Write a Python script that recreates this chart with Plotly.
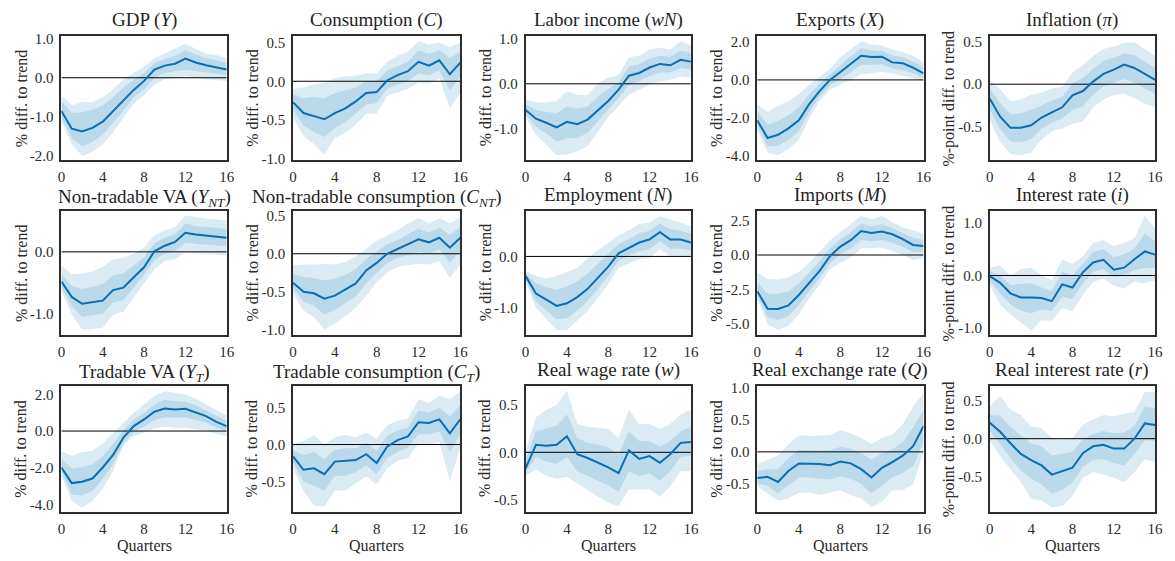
import plotly.graph_objects as go

quarters = list(range(17))

# ---- Impulse responses: median path, 68% band, 90% band ----
gdp_mid  = [-0.85, -1.30, -1.37, -1.28, -1.12, -0.85, -0.58, -0.31, -0.08, 0.21, 0.31, 0.36, 0.49, 0.39, 0.32, 0.26, 0.21]
gdp_lo68 = [-1.00, -1.55, -1.75, -1.65, -1.45, -1.15, -0.85, -0.50, -0.30, 0.00, 0.12, 0.17, 0.20, 0.17, 0.13, 0.10, 0.06]
gdp_hi68 = [-0.60, -0.90, -0.88, -0.82, -0.70, -0.50, -0.25, -0.05, 0.12, 0.38, 0.48, 0.56, 0.70, 0.60, 0.50, 0.45, 0.38]
gdp_lo90 = [-1.12, -1.70, -2.00, -1.90, -1.70, -1.40, -1.03, -0.66, -0.45, -0.17, -0.04, 0.00, 0.04, 0.00, -0.04, -0.06, -0.08]
gdp_hi90 = [-0.45, -0.70, -0.62, -0.62, -0.50, -0.29, -0.04, 0.12, 0.29, 0.50, 0.62, 0.74, 0.87, 0.74, 0.62, 0.58, 0.50]

cons_mid  = [-0.27, -0.41, -0.45, -0.49, -0.41, -0.35, -0.26, -0.15, -0.14, 0.01, 0.08, 0.13, 0.25, 0.20, 0.27, 0.09, 0.24]
cons_lo68 = [-0.36, -0.57, -0.65, -0.72, -0.60, -0.53, -0.42, -0.30, -0.28, -0.10, -0.04, 0.00, 0.10, 0.08, 0.14, -0.12, 0.06]
cons_hi68 = [-0.17, -0.22, -0.20, -0.22, -0.15, -0.12, -0.08, 0.00, 0.00, 0.14, 0.20, 0.25, 0.40, 0.35, 0.40, 0.30, 0.38]
cons_lo90 = [-0.46, -0.71, -0.81, -0.95, -0.73, -0.67, -0.56, -0.42, -0.42, -0.19, -0.15, -0.10, -0.02, -0.03, 0.04, -0.35, -0.15]
cons_hi90 = [-0.10, -0.08, -0.04, -0.02, 0.04, 0.06, 0.07, 0.10, 0.10, 0.25, 0.33, 0.38, 0.52, 0.47, 0.50, 0.44, 0.50]

labinc_mid  = [-0.58, -0.77, -0.86, -0.96, -0.84, -0.89, -0.79, -0.59, -0.38, -0.13, 0.18, 0.24, 0.36, 0.44, 0.41, 0.53, 0.49]
labinc_lo68 = [-0.68, -0.95, -1.10, -1.28, -1.20, -1.20, -1.08, -0.83, -0.58, -0.32, -0.02, 0.06, 0.17, 0.25, 0.25, 0.35, 0.32]
labinc_hi68 = [-0.45, -0.57, -0.62, -0.65, -0.50, -0.55, -0.50, -0.28, -0.12, 0.03, 0.38, 0.43, 0.56, 0.62, 0.60, 0.73, 0.68]
labinc_lo90 = [-0.74, -1.13, -1.34, -1.58, -1.56, -1.49, -1.38, -1.06, -0.74, -0.49, -0.24, -0.13, -0.02, 0.05, 0.09, 0.16, 0.14]
labinc_hi90 = [-0.34, -0.41, -0.41, -0.38, -0.16, -0.24, -0.25, 0.01, 0.14, 0.19, 0.59, 0.62, 0.76, 0.80, 0.76, 0.94, 0.85]

exp_mid  = [-2.12, -3.05, -2.88, -2.54, -2.12, -1.27, -0.59, 0.00, 0.42, 0.85, 1.27, 1.20, 1.22, 0.92, 0.88, 0.64, 0.34]
exp_lo68 = [-2.40, -3.50, -3.45, -3.15, -2.70, -1.70, -0.88, -0.30, 0.05, 0.40, 0.80, 0.78, 0.82, 0.60, 0.52, 0.35, 0.12]
exp_hi68 = [-1.65, -2.35, -2.15, -1.85, -1.45, -0.75, -0.20, 0.30, 0.80, 1.25, 1.65, 1.55, 1.52, 1.28, 1.20, 0.97, 0.65]
exp_lo90 = [-2.63, -3.81, -3.95, -3.64, -3.14, -2.03, -1.10, -0.51, -0.25, 0.00, 0.29, 0.34, 0.42, 0.34, 0.22, 0.08, -0.05]
exp_hi90 = [-1.27, -1.69, -1.36, -1.10, -0.76, -0.25, 0.17, 0.59, 1.19, 1.61, 2.03, 1.86, 1.81, 1.61, 1.47, 1.27, 0.93]

infl_mid  = [-0.17, -0.38, -0.51, -0.51, -0.48, -0.39, -0.33, -0.27, -0.13, -0.08, 0.03, 0.12, 0.17, 0.23, 0.19, 0.12, 0.05]
infl_lo68 = [-0.30, -0.53, -0.67, -0.68, -0.64, -0.52, -0.45, -0.40, -0.30, -0.26, -0.12, -0.03, 0.02, 0.06, 0.02, -0.05, -0.11]
infl_hi68 = [-0.06, -0.22, -0.35, -0.34, -0.30, -0.25, -0.19, -0.15, 0.01, 0.07, 0.18, 0.27, 0.31, 0.36, 0.34, 0.27, 0.19]
infl_lo90 = [-0.42, -0.68, -0.82, -0.83, -0.80, -0.65, -0.55, -0.52, -0.46, -0.44, -0.27, -0.18, -0.13, -0.11, -0.16, -0.23, -0.27]
infl_hi90 = [0.05, -0.06, -0.20, -0.18, -0.12, -0.10, -0.05, -0.03, 0.14, 0.22, 0.33, 0.41, 0.44, 0.48, 0.49, 0.41, 0.33]

ntva_mid  = [-0.48, -0.73, -0.84, -0.81, -0.79, -0.62, -0.58, -0.41, -0.25, 0.01, 0.10, 0.16, 0.31, 0.28, 0.26, 0.24, 0.23]
ntva_lo68 = [-0.57, -0.88, -1.05, -1.03, -1.00, -0.82, -0.78, -0.58, -0.38, -0.13, -0.03, 0.02, 0.15, 0.13, 0.12, 0.10, 0.09]
ntva_hi68 = [-0.36, -0.55, -0.60, -0.57, -0.52, -0.38, -0.35, -0.22, -0.09, 0.14, 0.23, 0.28, 0.46, 0.42, 0.40, 0.38, 0.37]
ntva_lo90 = [-0.64, -1.01, -1.26, -1.25, -1.23, -1.02, -0.97, -0.75, -0.51, -0.28, -0.15, -0.12, -0.01, -0.03, -0.03, -0.04, -0.06]
ntva_hi90 = [-0.23, -0.36, -0.36, -0.32, -0.24, -0.12, -0.10, -0.03, 0.07, 0.27, 0.35, 0.40, 0.59, 0.56, 0.54, 0.53, 0.51]

ntc_mid  = [-0.38, -0.50, -0.52, -0.59, -0.55, -0.47, -0.39, -0.22, -0.12, 0.00, 0.06, 0.12, 0.19, 0.15, 0.21, 0.08, 0.21]
ntc_lo68 = [-0.45, -0.63, -0.68, -0.80, -0.74, -0.65, -0.56, -0.39, -0.25, -0.12, -0.05, -0.02, 0.03, 0.00, 0.06, -0.12, 0.04]
ntc_hi68 = [-0.27, -0.31, -0.32, -0.35, -0.33, -0.28, -0.20, -0.07, 0.03, 0.12, 0.18, 0.26, 0.33, 0.28, 0.34, 0.25, 0.35]
ntc_lo90 = [-0.52, -0.75, -0.83, -1.00, -0.92, -0.82, -0.71, -0.56, -0.37, -0.25, -0.17, -0.15, -0.13, -0.14, -0.10, -0.32, -0.14]
ntc_hi90 = [-0.15, -0.14, -0.14, -0.13, -0.14, -0.11, -0.04, 0.07, 0.17, 0.24, 0.31, 0.40, 0.47, 0.40, 0.47, 0.40, 0.48]

emp_mid  = [-0.38, -0.72, -0.84, -0.96, -0.91, -0.79, -0.63, -0.41, -0.20, 0.06, 0.17, 0.27, 0.33, 0.47, 0.33, 0.33, 0.27]
emp_lo68 = [-0.44, -0.88, -1.05, -1.22, -1.20, -1.05, -0.86, -0.63, -0.38, -0.08, 0.02, 0.10, 0.14, 0.30, 0.15, 0.15, 0.12]
emp_hi68 = [-0.32, -0.52, -0.60, -0.65, -0.58, -0.48, -0.33, -0.14, 0.03, 0.24, 0.34, 0.45, 0.50, 0.64, 0.53, 0.50, 0.44]
emp_lo90 = [-0.50, -1.00, -1.22, -1.43, -1.43, -1.25, -1.06, -0.81, -0.53, -0.22, -0.13, -0.05, -0.03, 0.14, 0.00, 0.00, -0.01]
emp_hi90 = [-0.28, -0.38, -0.43, -0.38, -0.30, -0.22, -0.04, 0.13, 0.26, 0.41, 0.51, 0.63, 0.66, 0.78, 0.72, 0.66, 0.59]

imp_mid  = [-2.64, -3.92, -3.94, -3.68, -2.92, -2.05, -1.16, -0.09, 0.61, 1.08, 1.75, 1.60, 1.72, 1.51, 1.16, 0.73, 0.66]
imp_lo68 = [-2.95, -4.55, -4.75, -4.45, -3.65, -2.65, -1.70, -0.60, 0.05, 0.45, 1.10, 1.00, 1.10, 0.90, 0.60, 0.20, 0.20]
imp_hi68 = [-2.00, -2.80, -2.85, -2.65, -2.10, -1.30, -0.45, 0.50, 1.15, 1.65, 2.30, 2.10, 2.25, 1.95, 1.60, 1.25, 1.10]
imp_lo90 = [-3.16, -5.05, -5.47, -5.17, -4.34, -3.16, -2.17, -1.04, -0.57, -0.21, 0.50, 0.50, 0.54, 0.26, 0.02, -0.38, -0.21]
imp_hi90 = [-1.27, -1.75, -1.79, -1.63, -1.23, -0.57, 0.26, 1.08, 1.67, 2.26, 2.85, 2.62, 2.85, 2.38, 2.03, 1.79, 1.56]

irate_mid  = [-0.01, -0.14, -0.34, -0.42, -0.42, -0.43, -0.49, -0.17, -0.23, 0.06, 0.25, 0.30, 0.11, 0.15, 0.31, 0.46, 0.40]
irate_lo68 = [-0.10, -0.35, -0.55, -0.67, -0.72, -0.65, -0.68, -0.40, -0.45, -0.15, 0.07, 0.12, -0.04, 0.00, 0.10, 0.15, 0.15]
irate_hi68 = [0.08, 0.00, -0.18, -0.17, -0.15, -0.23, -0.30, 0.07, 0.00, 0.22, 0.45, 0.50, 0.35, 0.40, 0.52, 0.80, 0.66]
irate_lo90 = [-0.19, -0.56, -0.74, -0.90, -1.05, -0.86, -0.86, -0.62, -0.68, -0.37, -0.12, -0.06, -0.19, -0.25, -0.12, -0.15, -0.09]
irate_hi90 = [0.15, 0.19, 0.00, 0.12, 0.15, 0.01, -0.09, 0.31, 0.22, 0.37, 0.62, 0.68, 0.56, 0.62, 0.71, 1.14, 0.90]

tva_mid  = [-1.98, -2.83, -2.76, -2.58, -1.98, -1.30, -0.36, 0.27, 0.63, 1.05, 1.23, 1.17, 1.21, 1.03, 0.81, 0.50, 0.27]
tva_lo68 = [-2.20, -3.45, -3.50, -3.25, -2.60, -1.80, -0.65, -0.05, 0.25, 0.60, 0.75, 0.72, 0.75, 0.60, 0.45, 0.20, 0.00]
tva_hi68 = [-1.50, -2.05, -1.95, -1.80, -1.35, -0.70, 0.05, 0.62, 1.00, 1.45, 1.70, 1.62, 1.60, 1.40, 1.12, 0.82, 0.55]
tva_lo90 = [-2.44, -3.80, -4.16, -3.80, -3.13, -2.17, -0.78, -0.27, -0.09, 0.13, 0.23, 0.18, 0.18, 0.09, 0.05, -0.18, -0.27]
tva_hi90 = [-1.08, -1.36, -1.14, -1.08, -0.67, -0.09, 0.45, 0.99, 1.45, 1.90, 2.17, 2.08, 1.99, 1.75, 1.45, 1.18, 0.85]

tc_mid  = [-0.16, -0.34, -0.32, -0.40, -0.23, -0.22, -0.21, -0.13, -0.25, -0.03, 0.06, 0.11, 0.30, 0.29, 0.34, 0.15, 0.34]
tc_lo68 = [-0.24, -0.50, -0.56, -0.62, -0.42, -0.42, -0.37, -0.28, -0.40, -0.18, -0.10, -0.04, 0.14, 0.14, 0.18, -0.10, 0.14]
tc_hi68 = [-0.08, -0.14, -0.10, -0.20, -0.07, -0.05, -0.05, 0.02, -0.08, 0.12, 0.19, 0.23, 0.46, 0.43, 0.50, 0.38, 0.53]
tc_lo90 = [-0.32, -0.63, -0.82, -0.84, -0.62, -0.62, -0.52, -0.43, -0.54, -0.32, -0.22, -0.18, 0.01, 0.00, 0.03, -0.49, -0.05]
tc_hi90 = [0.01, 0.04, 0.13, 0.00, 0.10, 0.13, 0.10, 0.16, 0.08, 0.26, 0.32, 0.35, 0.61, 0.56, 0.66, 0.61, 0.72]

wage_mid  = [-0.17, 0.08, 0.07, 0.08, 0.17, -0.02, -0.06, -0.11, -0.16, -0.22, 0.02, -0.07, -0.04, -0.11, -0.02, 0.10, 0.11]
wage_lo68 = [-0.22, -0.05, -0.10, -0.12, -0.05, -0.20, -0.25, -0.30, -0.35, -0.42, -0.20, -0.25, -0.22, -0.30, -0.20, -0.05, -0.04]
wage_hi68 = [-0.08, 0.22, 0.25, 0.28, 0.40, 0.15, 0.10, 0.08, 0.05, -0.02, 0.22, 0.12, 0.12, 0.06, 0.12, 0.22, 0.27]
wage_lo90 = [-0.25, -0.18, -0.25, -0.28, -0.26, -0.33, -0.40, -0.47, -0.53, -0.57, -0.39, -0.39, -0.39, -0.47, -0.36, -0.20, -0.20]
wage_hi90 = [0.02, 0.37, 0.45, 0.50, 0.65, 0.30, 0.27, 0.26, 0.25, 0.15, 0.45, 0.30, 0.30, 0.25, 0.30, 0.40, 0.45]

rer_mid  = [-0.41, -0.39, -0.47, -0.30, -0.18, -0.18, -0.19, -0.21, -0.15, -0.18, -0.27, -0.40, -0.25, -0.16, -0.06, 0.09, 0.40]
rer_lo68 = [-0.49, -0.53, -0.65, -0.52, -0.40, -0.40, -0.42, -0.43, -0.38, -0.42, -0.50, -0.65, -0.52, -0.40, -0.33, -0.22, 0.15]
rer_hi68 = [-0.30, -0.27, -0.27, -0.10, 0.03, 0.02, 0.02, 0.02, 0.08, 0.05, -0.02, -0.12, -0.02, 0.04, 0.15, 0.38, 0.65]
rer_lo90 = [-0.53, -0.66, -0.76, -0.73, -0.64, -0.64, -0.67, -0.64, -0.60, -0.68, -0.73, -0.86, -0.78, -0.60, -0.60, -0.50, -0.01]
rer_hi90 = [-0.19, -0.12, -0.06, 0.12, 0.26, 0.25, 0.25, 0.26, 0.34, 0.29, 0.22, 0.12, 0.22, 0.27, 0.43, 0.71, 0.92]

rir_mid  = [0.21, 0.09, -0.06, -0.20, -0.28, -0.35, -0.47, -0.43, -0.38, -0.19, -0.10, -0.08, -0.13, -0.13, 0.00, 0.20, 0.18]
rir_lo68 = [0.10, -0.08, -0.25, -0.42, -0.52, -0.60, -0.72, -0.67, -0.58, -0.37, -0.28, -0.27, -0.32, -0.35, -0.20, -0.02, -0.03]
rir_hi68 = [0.31, 0.30, 0.15, 0.05, -0.06, -0.10, -0.22, -0.20, -0.17, -0.01, 0.06, 0.10, 0.07, 0.08, 0.17, 0.42, 0.40]
rir_lo90 = [-0.03, -0.23, -0.40, -0.57, -0.79, -0.81, -0.90, -0.88, -0.75, -0.51, -0.44, -0.47, -0.51, -0.57, -0.44, -0.27, -0.31]
rir_hi90 = [0.42, 0.56, 0.38, 0.31, 0.16, 0.14, 0.01, -0.01, 0.01, 0.18, 0.25, 0.31, 0.29, 0.33, 0.35, 0.61, 0.61]

# ---- Panel titles, axis labels and y ticks ----
PCT = "% diff. to trend"
PPT = "%-point diff. to trend"

titles = [
    "GDP (<i>Y</i>)", "Consumption (<i>C</i>)", "Labor income (<i>wN</i>)", "Exports (<i>X</i>)", "Inflation (<i>π</i>)",
    "Non-tradable VA (<i>Y<sub>NT</sub></i>)", "Non-tradable consumption (<i>C<sub>NT</sub></i>)", "Employment (<i>N</i>)",
    "Imports (<i>M</i>)", "Interest rate (<i>i</i>)",
    "Tradable VA (<i>Y<sub>T</sub></i>)", "Tradable consumption (<i>C<sub>T</sub></i>)", "Real wage rate (<i>w</i>)",
    "Real exchange rate (<i>Q</i>)", "Real interest rate (<i>r</i>)",
]
ylabels = [PCT, PCT, PCT, PCT, PPT,
           PCT, PCT, PCT, PCT, PPT,
           PCT, PCT, PCT, PCT, PPT]
yticks = [
    [-2.0, -1.0, 0.0, 1.0], [-1.0, -0.5, 0.0, 0.5], [-1.0, 0.0, 1.0], [-4.0, -2.0, 0.0, 2.0], [-0.5, 0.0, 0.5],
    [-1.0, 0.0], [-1.0, -0.5, 0.0, 0.5], [-1.0, 0.0], [-5.0, -2.5, 0.0, 2.5], [-1.0, 0.0, 1.0],
    [-4.0, -2.0, 0.0, 2.0], [-0.5, 0.0, 0.5], [-0.5, 0.0, 0.5], [-0.5, 0.0, 0.5, 1.0], [-0.5, 0.0, 0.5],
]
xticks = [0, 4, 8, 12, 16]

series = [
    (gdp_mid, gdp_lo68, gdp_hi68, gdp_lo90, gdp_hi90),
    (cons_mid, cons_lo68, cons_hi68, cons_lo90, cons_hi90),
    (labinc_mid, labinc_lo68, labinc_hi68, labinc_lo90, labinc_hi90),
    (exp_mid, exp_lo68, exp_hi68, exp_lo90, exp_hi90),
    (infl_mid, infl_lo68, infl_hi68, infl_lo90, infl_hi90),
    (ntva_mid, ntva_lo68, ntva_hi68, ntva_lo90, ntva_hi90),
    (ntc_mid, ntc_lo68, ntc_hi68, ntc_lo90, ntc_hi90),
    (emp_mid, emp_lo68, emp_hi68, emp_lo90, emp_hi90),
    (imp_mid, imp_lo68, imp_hi68, imp_lo90, imp_hi90),
    (irate_mid, irate_lo68, irate_hi68, irate_lo90, irate_hi90),
    (tva_mid, tva_lo68, tva_hi68, tva_lo90, tva_hi90),
    (tc_mid, tc_lo68, tc_hi68, tc_lo90, tc_hi90),
    (wage_mid, wage_lo68, wage_hi68, wage_lo90, wage_hi90),
    (rer_mid, rer_lo68, rer_hi68, rer_lo90, rer_hi90),
    (rir_mid, rir_lo68, rir_hi68, rir_lo90, rir_hi90),
]

# ---- Layout geometry (pixels) ----
W, H = 1175, 561
col_px = [(58, 225), (292, 461), (527, 694), (761, 929), (996, 1163)]
row_px = [(31, 158), (210, 337), (389, 518)]
yranges = [
    [-2.11, 1.06], [-1.02, 0.58], [-1.69, 1.05], [-4.22, 2.29], [-0.89, 0.56],
    [-1.35, 0.66], [-1.07, 0.56], [-1.53, 0.88], [-5.85, 3.2], [-1.14, 1.23],
    [-4.40, 2.45], [-0.91, 0.79], [-0.63, 0.70], [-0.94, 1.03], [-0.96, 0.69],
]

LINE = "#0a6eb0"
BAND90 = "rgba(1,115,178,0.14)"
BAND68 = "rgba(1,115,178,0.15)"
FRAME = "#2e2e2e"
FONT = "Liberation Serif"
TXT = "#2a2a2a"

fig = go.Figure()
annotations = []
layout_axes = {}

for k in range(15):
    r, c = divmod(k, 5)
    n = k + 1
    xa, ya = ("x" if n == 1 else f"x{n}"), ("y" if n == 1 else f"y{n}")
    mid, lo68, hi68, lo90, hi90 = series[k]
    loop_x = quarters + quarters[::-1]

    fig.add_trace(go.Scatter(x=loop_x, y=hi90 + lo90[::-1], fill="toself", fillcolor=BAND90,
                             line=dict(width=0), mode="lines", hoverinfo="skip", xaxis=xa, yaxis=ya))
    fig.add_trace(go.Scatter(x=loop_x, y=hi68 + lo68[::-1], fill="toself", fillcolor=BAND68,
                             line=dict(width=0), mode="lines", hoverinfo="skip", xaxis=xa, yaxis=ya))
    fig.add_trace(go.Scatter(x=[quarters[0], quarters[-1]], y=[0, 0], mode="lines",
                             line=dict(color="black", width=1), hoverinfo="skip", xaxis=xa, yaxis=ya))
    fig.add_trace(go.Scatter(x=quarters, y=mid, mode="lines", line=dict(color=LINE, width=2),
                             xaxis=xa, yaxis=ya))

    x0, x1 = col_px[c]
    y0, y1 = row_px[r]
    xdom = [x0 / W, x1 / W]
    ydom = [1 - y1 / H, 1 - y0 / H]
    axis_style = dict(showline=True, mirror=True, linecolor=FRAME, linewidth=1.6, ticks="",
                      showgrid=False, zeroline=False,
                      tickfont=dict(family=FONT, size=15, color=TXT))
    layout_axes["xaxis" if n == 1 else f"xaxis{n}"] = dict(
        domain=xdom, anchor=ya, range=[0, 16], tickvals=xticks, ticklabelstandoff=2, **axis_style)
    layout_axes["yaxis" if n == 1 else f"yaxis{n}"] = dict(
        domain=ydom, anchor=xa, range=yranges[k], tickvals=yticks[k], ticklabelstandoff=3,
        ticktext=[f"{v:.1f}" for v in yticks[k]], **axis_style)

    # panel title (subscripted titles sit a little lower so their baseline lines up)
    title_gap = 1 if "<sub>" in titles[k] else -3
    annotations.append(dict(text=titles[k], x=(x0 + x1) / 2 / W, y=1 - (y0 + title_gap) / H,
                            xref="paper", yref="paper", showarrow=False, xanchor="center", yanchor="bottom",
                            font=dict(family=FONT, size=19, color="#1e1e1e")))
    # y-axis label
    annotations.append(dict(text=ylabels[k], x=(x0 - 41) / W, y=1 - (y0 + y1) / 2 / H,
                            xref="paper", yref="paper", showarrow=False, textangle=-90,
                            xanchor="center", yanchor="middle",
                            font=dict(family=FONT, size=16, color=TXT)))
    if r == 2:
        annotations.append(dict(text="Quarters", x=(x0 + x1) / 2 / W, y=1 - (y1 + 24) / H,
                                xref="paper", yref="paper", showarrow=False,
                                xanchor="center", yanchor="top",
                                font=dict(family=FONT, size=16, color=TXT)))

fig.update_layout(width=W, height=H, margin=dict(l=0, r=0, t=0, b=0),
                  plot_bgcolor="white", paper_bgcolor="white", showlegend=False,
                  annotations=annotations, **layout_axes)

fig.write_html("out.html")
